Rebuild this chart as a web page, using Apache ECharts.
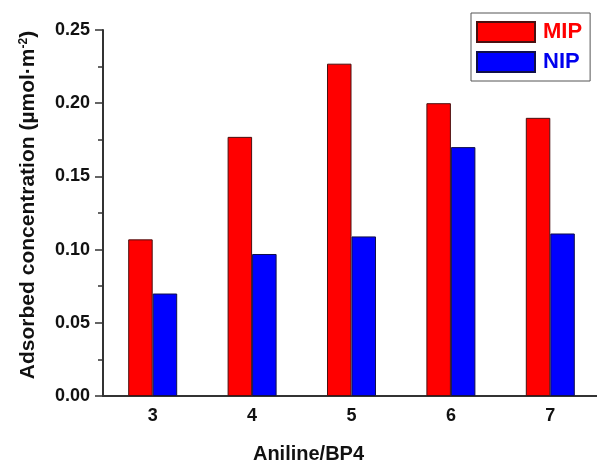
<!DOCTYPE html>
<html lang="en">
<head>
    <meta charset="UTF-8">
    <title>Adsorbed concentration</title>
    <script src="https://cdn.jsdelivr.net/npm/echarts@6/dist/echarts.min.js"></script>
</head>
<body style="margin:0">
<div id="main" style="width: 597px;height: 462px;"></div>
<script type="text/javascript">
    var ratios = ['3', '4', '5', '6', '7'];
    var mip = [0.107, 0.177, 0.227, 0.200, 0.190];
    var nip = [0.070, 0.097, 0.109, 0.170, 0.111];

    var font = 'Liberation Sans, Arial, sans-serif';
    var axisColor = '#333';

    var myChart = echarts.init(document.getElementById('main'));
    var option = {
        backgroundColor: '#fff',
        animation: false,
        grid: {left: 103, right: -3, top: 30, bottom: 66, outerBoundsMode: 'none'},
        legend: {
            orient: 'vertical',
            left: 471,
            top: 13,
            padding: [8, 8, 8, 5],
            itemWidth: 58,
            itemHeight: 20,
            itemGap: 8,
            borderColor: '#555',
            borderWidth: 1,
            icon: 'rect',
            textStyle: {fontFamily: font, fontWeight: 'bold', fontSize: 22, padding: [0, 0, 0, 3]},
            data: [
                {name: 'MIP', textStyle: {color: '#ff0000'}},
                {name: 'NIP', textStyle: {color: '#0000ee'}}
            ]
        },
        xAxis: {
            type: 'category',
            data: ratios,
            name: 'Aniline/BP4',
            nameLocation: 'middle',
            nameGap: 48,
            // the title sits left of the plot centre in the original
            nameTextStyle: {fontFamily: font, fontWeight: 'bold', fontSize: 20, color: '#111', padding: [0, 86, 0, 0]},
            axisLine: {lineStyle: {color: axisColor, width: 2}},
            axisTick: {alignWithLabel: true, length: 7, lineStyle: {color: axisColor, width: 1.5}},
            axisLabel: {fontFamily: font, fontWeight: 'bold', fontSize: 18, color: '#111', margin: 11},
            splitLine: {show: false}
        },
        yAxis: {
            type: 'value',
            min: 0,
            max: 0.25,
            interval: 0.05,
            name: 'Adsorbed concentration (\u00b5mol\u00b7m{sup|-2})',
            nameLocation: 'middle',
            nameGap: 64,
            nameTextStyle: {
                fontFamily: font, fontWeight: 'bold', fontSize: 21, color: '#111', padding: [0, 0, 0, 16],
                rich: {sup: {fontFamily: font, fontWeight: 'bold', fontSize: 12, color: '#111', verticalAlign: 'top', padding: [0, 0, 9, 0]}}
            },
            axisLine: {show: true, lineStyle: {color: axisColor, width: 2}},
            axisTick: {show: true, length: 8, lineStyle: {color: axisColor, width: 1.5}},
            minorTick: {show: true, splitNumber: 2, length: 5, lineStyle: {color: axisColor, width: 1.5}},
            axisLabel: {
                fontFamily: font, fontWeight: 'bold', fontSize: 18, color: '#111', margin: 13,
                formatter: function (v) { return v.toFixed(2); }
            },
            splitLine: {show: false}
        },
        series: [
            {
                name: 'MIP',
                type: 'bar',
                data: mip,
                barWidth: 24.5,
                barGap: '0%',
                itemStyle: {color: '#ff0000', borderColor: '#4a1010', borderWidth: 1}
            },
            {
                name: 'NIP',
                type: 'bar',
                data: nip,
                barWidth: 24.5,
                barGap: '0%',
                itemStyle: {color: '#0000ff', borderColor: '#10104a', borderWidth: 1}
            }
        ]
    };
    myChart.setOption(option);
</script>
</body>
</html>
